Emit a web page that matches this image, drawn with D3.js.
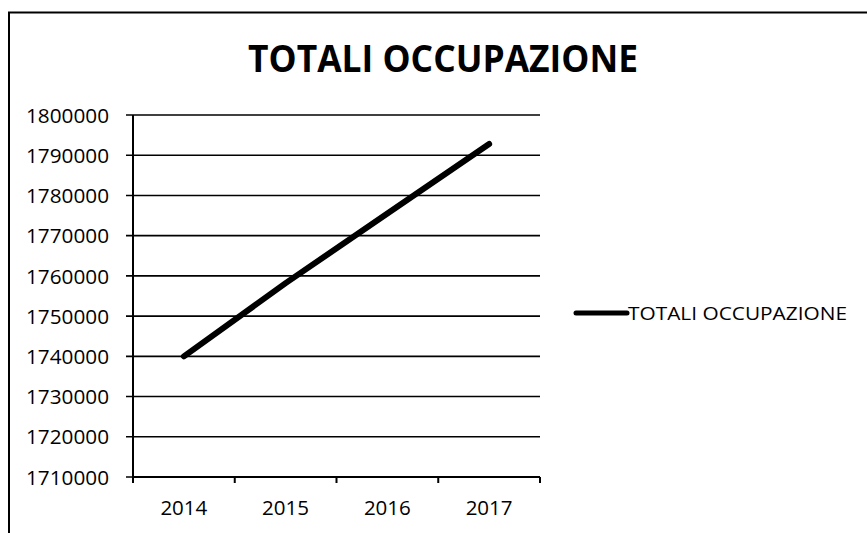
<!DOCTYPE html>
<html>
<head>
<meta charset="utf-8">
<script src="https://cdn.jsdelivr.net/npm/d3@7"></script>
<style>
  html, body { margin: 0; padding: 0; background: #fff; }
  svg { display: block; }
  text { font-family: "Open Sans", "Liberation Sans", sans-serif; fill: #000; }
</style>
</head>
<body>
<div id="chart"></div>
<script>

// Values.
const years = ['2014', '2015', '2016', '2017'];
const totals = [1740000, 1758200, 1775500, 1792800];
const yTicks = [1710000, 1720000, 1730000, 1740000, 1750000, 1760000, 1770000, 1780000, 1790000, 1800000];
const title = 'TOTALI OCCUPAZIONE';
const seriesName = 'TOTALI OCCUPAZIONE';

const W = 867, H = 533;

const svg = d3.select('#chart').append('svg')
  .attr('width', W)
  .attr('height', H);

// Chart frame (only top and left edges show in the scan).
svg.append('path')
  .attr('d', `M9,${H} V12.5 H${W}`)
  .attr('fill', 'none')
  .attr('stroke', '#000')
  .attr('stroke-width', 2);

// Title.
svg.append('text')
  .attr('x', 443)
  .attr('y', 72)
  .attr('text-anchor', 'middle')
  .attr('font-size', 38)
  .attr('font-weight', 700)
  .attr('textLength', 390)
  .attr('lengthAdjust', 'spacingAndGlyphs')
  .text(title);

// Scales.
const x = d3.scaleBand().domain(years).range([133, 540]).padding(0);
const y = d3.scaleLinear().domain([1710000, 1800000]).range([477, 115]);

// Gridlines.
svg.append('g')
  .selectAll('line')
  .data(yTicks)
  .join('line')
  .attr('x1', 126)
  .attr('x2', x.range()[1])
  .attr('y1', d => y(d))
  .attr('y2', d => y(d))
  .attr('stroke', '#000')
  .attr('stroke-width', 1.6);

// Y axis.
const yAxis = svg.append('g')
  .attr('transform', `translate(${x.range()[0]},0)`)
  .call(d3.axisLeft(y).tickValues(yTicks).tickSize(7).tickPadding(17).tickFormat(d3.format('d')));
yAxis.select('.domain').attr('stroke-width', 2).attr('d', `M0,${y(1800000)}V${y(1710000) + 1}`);
yAxis.selectAll('line').remove();
yAxis.selectAll('text')
  .attr('font-size', 20)
  .attr('font-family', '"Open Sans", "Liberation Sans", sans-serif')
  .attr('textLength', 83)
  .attr('lengthAdjust', 'spacingAndGlyphs')
  .attr('dy', '0.36em');

// X axis: labels centred, tick marks between categories.
const xAxis = svg.append('g')
  .attr('transform', `translate(0,${y(1710000)})`)
  .call(d3.axisBottom(x).tickSize(0).tickPadding(24));
xAxis.select('.domain').attr('stroke-width', 2).attr('d', `M${x.range()[0]},0H${x.range()[1]}`);
xAxis.selectAll('text')
  .attr('font-size', 20)
  .attr('font-family', '"Open Sans", "Liberation Sans", sans-serif')
  .attr('textLength', 47)
  .attr('lengthAdjust', 'spacingAndGlyphs');

const bounds = years.map(d => x(d)).concat([x.range()[1]]);
xAxis.selectAll('line.bound')
  .data(bounds)
  .join('line')
  .attr('class', 'bound')
  .attr('x1', d => d)
  .attr('x2', d => d)
  .attr('y1', 0)
  .attr('y2', 6)
  .attr('stroke', '#000')
  .attr('stroke-width', 2);

// The series line.
const line = d3.line()
  .x((d, i) => x(years[i]) + x.bandwidth() / 2)
  .y(d => y(d));

svg.append('path')
  .datum(totals)
  .attr('d', line)
  .attr('fill', 'none')
  .attr('stroke', '#000')
  .attr('stroke-width', 6)
  .attr('stroke-linecap', 'round')
  .attr('stroke-linejoin', 'round');

// Legend.
const legend = svg.append('g').attr('transform', 'translate(576,313)');
legend.append('line')
  .attr('x1', 0)
  .attr('x2', 51)
  .attr('stroke', '#000')
  .attr('stroke-width', 5)
  .attr('stroke-linecap', 'round');
legend.append('text')
  .attr('x', 52)
  .attr('y', 7)
  .attr('font-size', 18)
  .attr('textLength', 219)
  .attr('lengthAdjust', 'spacingAndGlyphs')
  .text(seriesName);

</script>
</body>
</html>
